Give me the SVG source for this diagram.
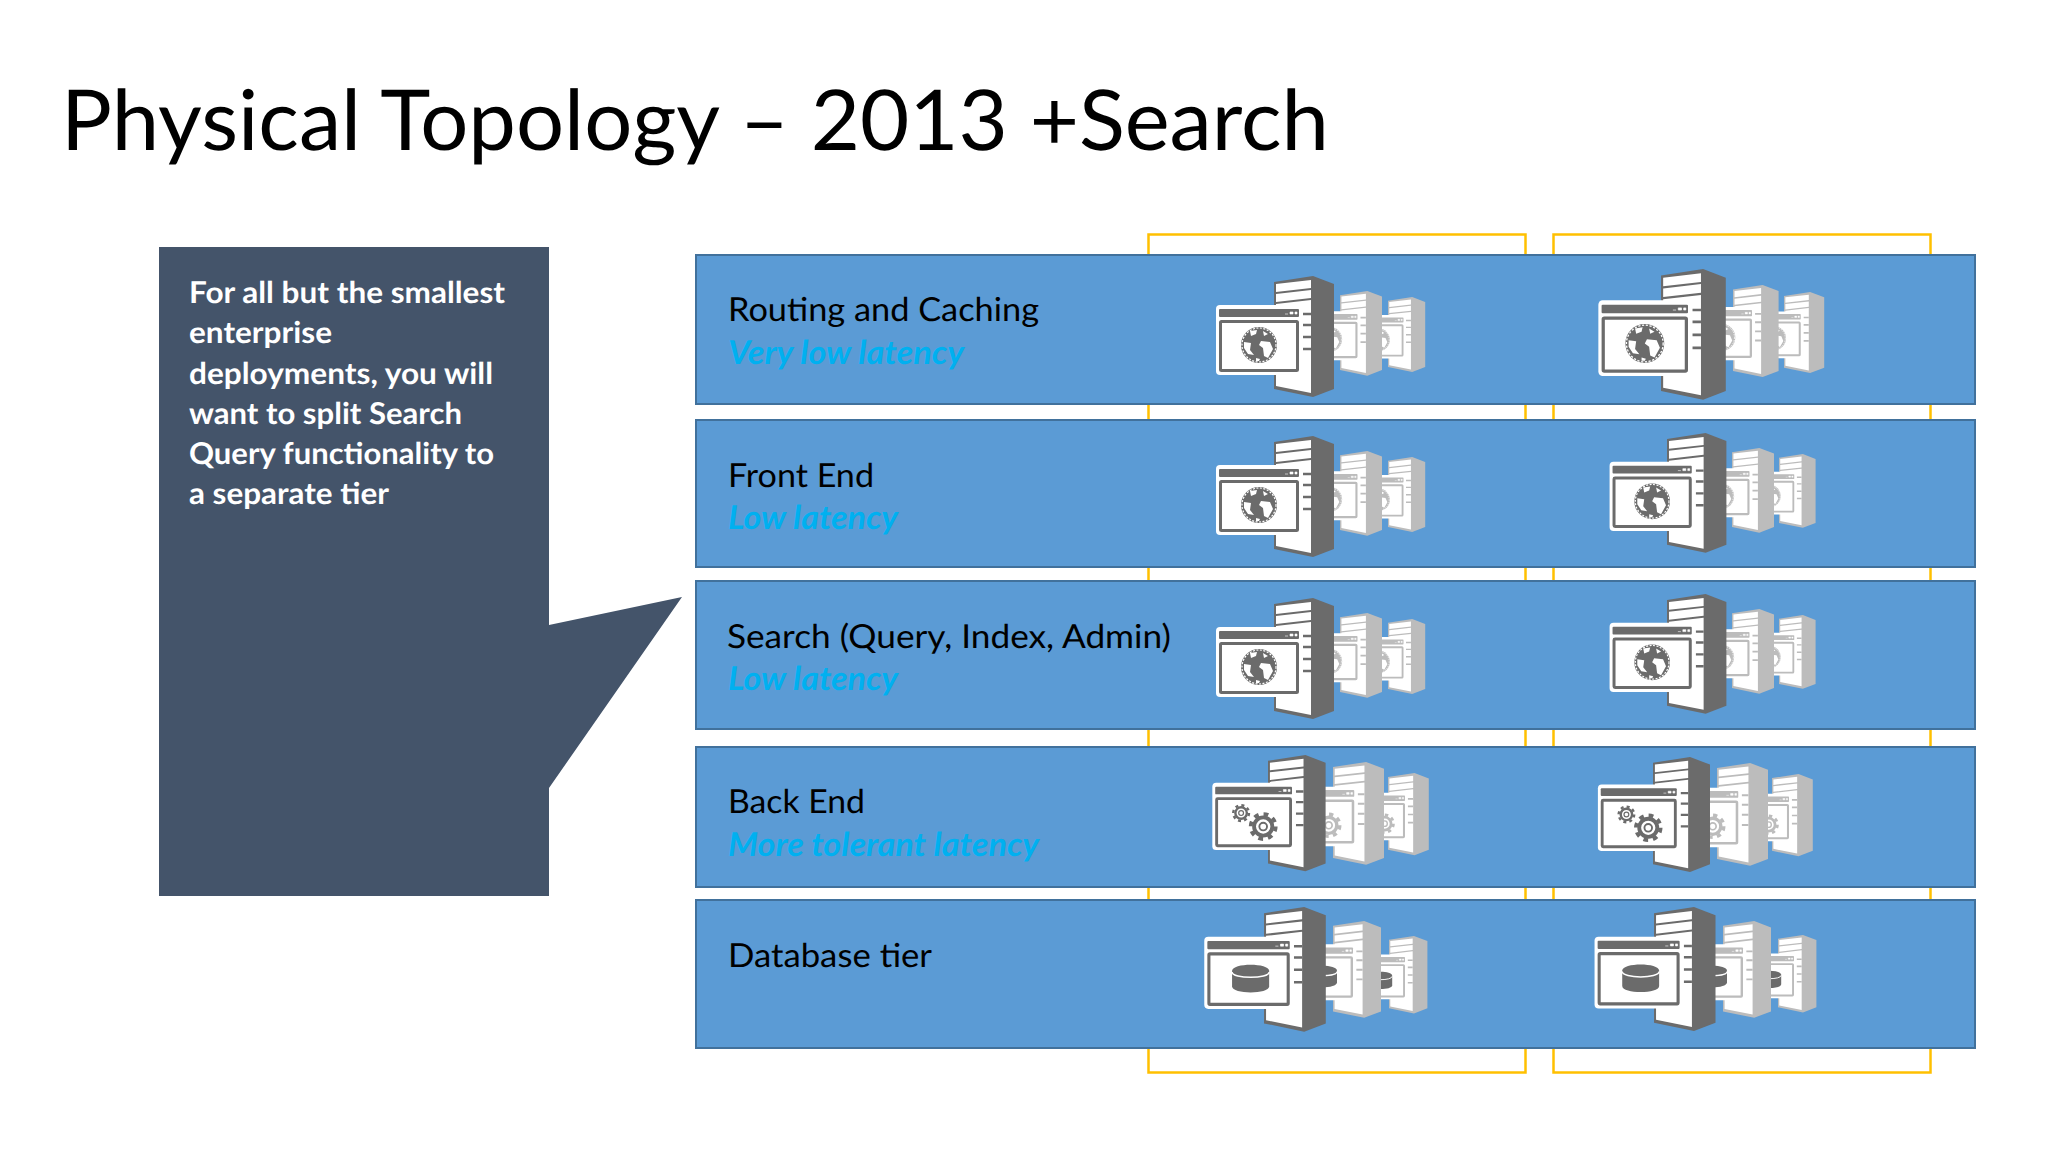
<svg xmlns="http://www.w3.org/2000/svg" width="2048" height="1152" viewBox="0 0 2048 1152">
<style>
text{font-family:Lato,"Open Sans",sans-serif;text-rendering:geometricPrecision}
.title{font-size:84px;fill:#000}
.band{fill:#5b9bd5;stroke:#41719c;stroke-width:2}
.name{font-size:33px;fill:#000}
.lat{font-size:33px;font-weight:700;font-style:italic;fill:#00b0f0}
.call{font-size:30px;font-weight:700;fill:#fff}
.br{fill:none;stroke:#ffc000;stroke-width:2.5}
.f{color:#6b6b6b}
.m{color:#bcbcbc}
</style>
<defs>
<g id="srv">
<path d="M0 6L39 0L60 8V113L39 121L0 113Z" fill="currentColor"/>
<path d="M2 8L37 4V12L2 16ZM2 18L37 14V22L2 26ZM2 28L37 24V117L2 110Z" fill="#fff"/>
<path d="M29 38H37M29 49H37M29 61H37M29 73H37" stroke="currentColor" stroke-width="2.4"/>
<rect x="-58" y="29" width="87" height="70" rx="4" fill="#fff"/>
<rect x="-55" y="33" width="80" height="8" rx="1" fill="currentColor"/>
<path d="M11 38H14M16 36H19V38H16ZM21 36H23V38H21Z" fill="#fff" stroke="#fff" stroke-width=".6"/>
<rect x="-53.500" y="45.500" width="77" height="49" rx="1" fill="#fff" stroke="currentColor" stroke-width="3"/>
</g>
<g id="t-globe">
<use href="#srv"/>
<g transform="translate(-15 69)">
<circle r="18" fill="currentColor"/>
<circle r="17" fill="none" stroke="#fff" stroke-width="1.200" stroke-dasharray="2 1.500"/>
<path fill="#fff" d="M-15-3L-8-2L-9 5L-5 10L-11 9L-15 3ZM2-4L11-3L14 4L9 13L5 11L4 3L0 0ZM-9-14L-2-15L-3-11L-8-9ZM4-14L9-11L5-9ZM-3 13L1 14L0 16L-3 16Z"/>
</g>
</g>
<g id="gear">
<circle r="9.500" fill="none" stroke="currentColor" stroke-width="4"/>
<circle r="13" fill="none" stroke="currentColor" stroke-width="4" stroke-dasharray="5 5.210"/>
<circle r="4" fill="none" stroke="currentColor" stroke-width="2"/>
</g>
<g id="t-gear">
<use href="#srv"/>
<use href="#gear" transform="translate(-28 60.500) scale(.63)"/>
<use href="#gear" transform="translate(-5 74.500)"/>
</g>
<g id="t-db">
<use href="#srv"/>
<path d="M-31 62C-31 54 5 54 5 62V77C5 85-31 85-31 77Z" fill="#6b6b6b"/>
<path d="M-31 63C-31 70 5 70 5 63" fill="none" stroke="#fff" stroke-width="1.500"/>
</g>
</defs>
<rect width="2048" height="1152" fill="#fff"/>
<text class="title" x="61" y="150" textLength="1268" lengthAdjust="spacingAndGlyphs">Physical Topology – 2013 +Search</text>
<g id="connectors">
<rect class="br" x="1148.500" y="234.500" width="377" height="838"/>
<rect class="br" x="1553.500" y="234.500" width="377" height="838"/>
</g>
<g id="callout">
<path d="M159 247H549V625L682 597L549 788V896H159Z" fill="#44546a"/>
<text class="call" x="189" y="303" textLength="316" lengthAdjust="spacingAndGlyphs">For all but the smallest</text>
<text class="call" x="189" y="343" textLength="143" lengthAdjust="spacingAndGlyphs">enterprise</text>
<text class="call" x="189" y="384" textLength="304" lengthAdjust="spacingAndGlyphs">deployments, you will</text>
<text class="call" x="189" y="424" textLength="273" lengthAdjust="spacingAndGlyphs">want to split Search</text>
<text class="call" x="189" y="464" textLength="305" lengthAdjust="spacingAndGlyphs">Query functionality to</text>
<text class="call" x="189" y="504" textLength="200" lengthAdjust="spacingAndGlyphs">a separate tier</text>
</g>
<g id="tier-routing">
<rect class="band" x="696" y="255" width="1279" height="149"/>
<text class="name" x="728" y="321" textLength="311" lengthAdjust="spacingAndGlyphs">Routing and Caching</text>
<text class="lat" x="728" y="364" textLength="236" lengthAdjust="spacingAndGlyphs">Very low latency</text>
<g id="routing-a">
<use href="#t-globe" class="m" transform="translate(1388 297) scale(.62)"/>
<use href="#t-globe" class="m" transform="translate(1340 291) scale(.7)"/>
<use href="#t-globe" class="f" transform="translate(1274 276)"/>
</g>
<g id="routing-b">
<use href="#t-globe" class="m" transform="translate(1784 292) scale(.67)"/>
<use href="#t-globe" class="m" transform="translate(1733 285) scale(.76)"/>
<use href="#t-globe" class="f" transform="translate(1661 269) scale(1.08)"/>
</g>
</g>
<g id="tier-frontend">
<rect class="band" x="696" y="420" width="1279" height="147"/>
<text class="name" x="728" y="487" textLength="146" lengthAdjust="spacingAndGlyphs">Front End</text>
<text class="lat" x="728" y="529" textLength="170" lengthAdjust="spacingAndGlyphs">Low latency</text>
<g id="frontend-a">
<use href="#t-globe" class="m" transform="translate(1388 457) scale(.62)"/>
<use href="#t-globe" class="m" transform="translate(1340 451) scale(.7)"/>
<use href="#t-globe" class="f" transform="translate(1274 436)"/>
</g>
<g id="frontend-b">
<use href="#t-globe" class="m" transform="translate(1779 454) scale(.61)"/>
<use href="#t-globe" class="m" transform="translate(1732 448) scale(.7)"/>
<use href="#t-globe" class="f" transform="translate(1667 433) scale(.99)"/>
</g>
</g>
<g id="tier-search">
<rect class="band" x="696" y="581" width="1279" height="148"/>
<text class="name" x="727" y="648" textLength="444" lengthAdjust="spacingAndGlyphs">Search (Query, Index, Admin)</text>
<text class="lat" x="728" y="690" textLength="170" lengthAdjust="spacingAndGlyphs">Low latency</text>
<g id="search-a">
<use href="#t-globe" class="m" transform="translate(1388 619) scale(.62)"/>
<use href="#t-globe" class="m" transform="translate(1340 613) scale(.7)"/>
<use href="#t-globe" class="f" transform="translate(1274 598)"/>
</g>
<g id="search-b">
<use href="#t-globe" class="m" transform="translate(1779 615) scale(.61)"/>
<use href="#t-globe" class="m" transform="translate(1732 609) scale(.7)"/>
<use href="#t-globe" class="f" transform="translate(1667 594) scale(.99)"/>
</g>
</g>
<g id="tier-backend">
<rect class="band" x="696" y="747" width="1279" height="140"/>
<text class="name" x="728" y="813" textLength="137" lengthAdjust="spacingAndGlyphs">Back End</text>
<text class="lat" x="728" y="856" textLength="311" lengthAdjust="spacingAndGlyphs">More tolerant latency</text>
<g id="backend-a">
<use href="#t-gear" class="m" transform="translate(1388 773) scale(.68)"/>
<use href="#t-gear" class="m" transform="translate(1333 762) scale(.85)"/>
<use href="#t-gear" class="f" transform="translate(1268 755) scale(.96)"/>
</g>
<g id="backend-b">
<use href="#t-gear" class="m" transform="translate(1772 774) scale(.68)"/>
<use href="#t-gear" class="m" transform="translate(1717 763) scale(.85)"/>
<use href="#t-gear" class="f" transform="translate(1653 757) scale(.95)"/>
</g>
</g>
<g id="tier-database">
<rect class="band" x="696" y="900" width="1279" height="148"/>
<text class="name" x="728" y="967" textLength="204" lengthAdjust="spacingAndGlyphs">Database tier</text>
<g id="database-a">
<use href="#t-db" class="m" transform="translate(1389 936) scale(.64)"/>
<use href="#t-db" class="m" transform="translate(1333 921) scale(.8)"/>
<use href="#t-db" class="f" transform="translate(1264 907) scale(1.03)"/>
</g>
<g id="database-b">
<use href="#t-db" class="m" transform="translate(1778 935) scale(.64)"/>
<use href="#t-db" class="m" transform="translate(1723 921) scale(.8)"/>
<use href="#t-db" class="f" transform="translate(1654 907) scale(1.025)"/>
</g>
</g>
</svg>
